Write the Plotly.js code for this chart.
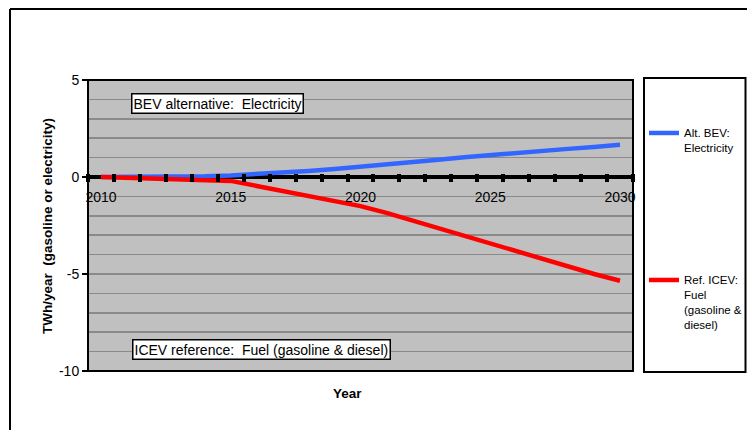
<!DOCTYPE html>
<html>
<head>
<meta charset="utf-8">
<script src="https://cdn.plot.ly/plotly-3.0.1.min.js"></script>
<style>html,body{margin:0;padding:0;background:#fff;}#chart{width:747px;height:430px;}</style>
</head>
<body>
<div id="chart"></div>
<script>
// Data
const years = [2010,2011,2012,2013,2014,2015,2016,2017,2018,2019,2020,2021,2022,2023,2024,2025,2026,2027,2028,2029,2030];
const bevElectricity = [0,0,0.01,0.02,0.04,0.08,0.14,0.22,0.31,0.41,0.52,0.64,0.76,0.89,1.02,1.14,1.25,1.35,1.45,1.55,1.66];
const icevFuel = [0,-0.04,-0.08,-0.12,-0.16,-0.2,-0.46,-0.72,-0.98,-1.24,-1.5,-1.85,-2.25,-2.65,-3.05,-3.45,-3.85,-4.2,-4.6,-5.0,-5.35];
const seriesNames = ['Alt. BEV:<br>Electricity', 'Ref. ICEV:<br>Fuel<br>(gasoline &amp;<br>diesel)'];
const xLabelYears = [2010,2015,2020,2025,2030];
const yTicks = [-10,-5,0,5];

// category boundaries (Excel style: tick marks between categories)
const boundaries = years.map(y => y - 0.5);
boundaries.push(years[years.length-1] + 0.5);

const FONT = 'Liberation Sans, Arial, sans-serif';
const W = 747, H = 430;
const L = 88, R = 633, T = 80, B = 371;
const pw = R - L, ph = B - T;
const px = x => (x - L) / pw;
const py = y => (B - y) / ph;
const cx = x => x / W;
const cy = y => 1 - y / H;
const xr = [years[0] - 0.5, years[years.length-1] + 0.5];
const yr = [-10, 5];
const zeroPos = (0 - yr[0]) / (yr[1] - yr[0]);

const traces = [
  {x: years, y: bevElectricity, name: seriesNames[0], type: 'scatter', mode: 'lines',
   line: {color: '#3366FF', width: 4.5}, legend: 'legend', xaxis: 'x', yaxis: 'y'},
  {x: years, y: icevFuel, name: seriesNames[1], type: 'scatter', mode: 'lines',
   line: {color: '#FF0000', width: 4.5}, legend: 'legend2', xaxis: 'x2', yaxis: 'y'}
];

const layout = {
  width: W, height: H,
  margin: {l: L, r: W - R, t: T, b: H - B, pad: 0, autoexpand: false},
  paper_bgcolor: '#ffffff',
  plot_bgcolor: '#C0C0C0',
  font: {family: FONT, size: 14, color: '#000'},
  showlegend: true,
  xaxis: {
    range: xr, anchor: 'free', position: zeroPos,
    tickmode: 'array', tickvals: xLabelYears, ticktext: xLabelYears.map(String),
    ticks: '', ticklabelstandoff: 10,
    showgrid: false, zeroline: false, showline: false,
    tickfont: {family: FONT, size: 14, color: '#000'}
  },
  xaxis2: {
    overlaying: 'x', anchor: 'free', position: zeroPos + 4 / ph, range: xr,
    tickmode: 'array', tickvals: boundaries, showticklabels: false,
    ticks: 'outside', ticklen: 8, tickwidth: 4, tickcolor: '#000',
    showgrid: false, zeroline: false, showline: false
  },
  yaxis: {
    range: yr, tickmode: 'array', tickvals: yTicks, ticktext: yTicks.map(String),
    ticks: 'outside', ticklen: 5, tickwidth: 2, tickcolor: '#000',
    showline: false,
    showgrid: true, gridcolor: '#8a8a8a', gridwidth: 1.6,
    minor: {dtick: 1, tick0: 0, showgrid: true, gridcolor: '#8a8a8a', gridwidth: 1.6, ticks: ''},
    zeroline: true, zerolinecolor: '#000', zerolinewidth: 4,
    tickfont: {family: FONT, size: 14, color: '#000'}
  },
  legend: {
    x: cx(644), y: cy(119), xanchor: 'left', yanchor: 'top', xref: 'container', yref: 'container',
    bgcolor: 'rgba(0,0,0,0)', borderwidth: 0, valign: 'top',
    font: {family: FONT, size: 11.5, color: '#000'}, itemwidth: 30
  },
  legend2: {
    x: cx(644), y: cy(266), xanchor: 'left', yanchor: 'top', xref: 'container', yref: 'container',
    bgcolor: 'rgba(0,0,0,0)', borderwidth: 0, valign: 'top',
    font: {family: FONT, size: 11.5, color: '#000'}, itemwidth: 30
  },
  shapes: [
    // plot area border
    {type: 'rect', xref: 'paper', yref: 'paper', x0: 0, x1: 1, y0: 0, y1: 1, line: {color: '#000', width: 2}, fillcolor: 'rgba(0,0,0,0)', layer: 'above'},
    // outer chart frame (top and left edges visible)
    {type: 'line', xref: 'paper', yref: 'paper', x0: px(10), x1: px(760), y0: py(9), y1: py(9), line: {color: '#000', width: 2}},
    {type: 'line', xref: 'paper', yref: 'paper', x0: px(10), x1: px(10), y0: py(9), y1: py(440), line: {color: '#000', width: 2}},
    // legend box
    {type: 'rect', xref: 'paper', yref: 'paper', x0: px(644), x1: px(745.5), y0: py(372), y1: py(78), line: {color: '#000', width: 2}, fillcolor: 'rgba(0,0,0,0)'}
  ],
  annotations: [
    {text: 'BEV alternative:\u00a0 Electricity', xref: 'paper', yref: 'paper', x: px(131), y: py(93),
     xanchor: 'left', yanchor: 'top', showarrow: false, bgcolor: '#fff', bordercolor: '#000', borderwidth: 1.5, borderpad: 1,
     font: {family: FONT, size: 14, color: '#000'}},
    {text: 'ICEV reference:\u00a0 Fuel (gasoline &amp; diesel)', xref: 'paper', yref: 'paper', x: px(132), y: py(339),
     xanchor: 'left', yanchor: 'top', showarrow: false, bgcolor: '#fff', bordercolor: '#000', borderwidth: 1.5, borderpad: 1,
     font: {family: FONT, size: 14, color: '#000'}},
    {text: '<b>TWh/year\u00a0 (gasoline or electricity)</b>', xref: 'paper', yref: 'paper', x: px(47), y: py(226),
     xanchor: 'center', yanchor: 'middle', textangle: -90, showarrow: false,
     font: {family: FONT, size: 13.5, color: '#000'}},
    {text: '<b>Year</b>', xref: 'paper', yref: 'paper', x: px(347), y: py(393),
     xanchor: 'center', yanchor: 'middle', showarrow: false,
     font: {family: FONT, size: 13.5, color: '#000'}}
  ]
};

Plotly.newPlot('chart', traces, layout, {displayModeBar: false, staticPlot: true});
</script>
</body>
</html>
